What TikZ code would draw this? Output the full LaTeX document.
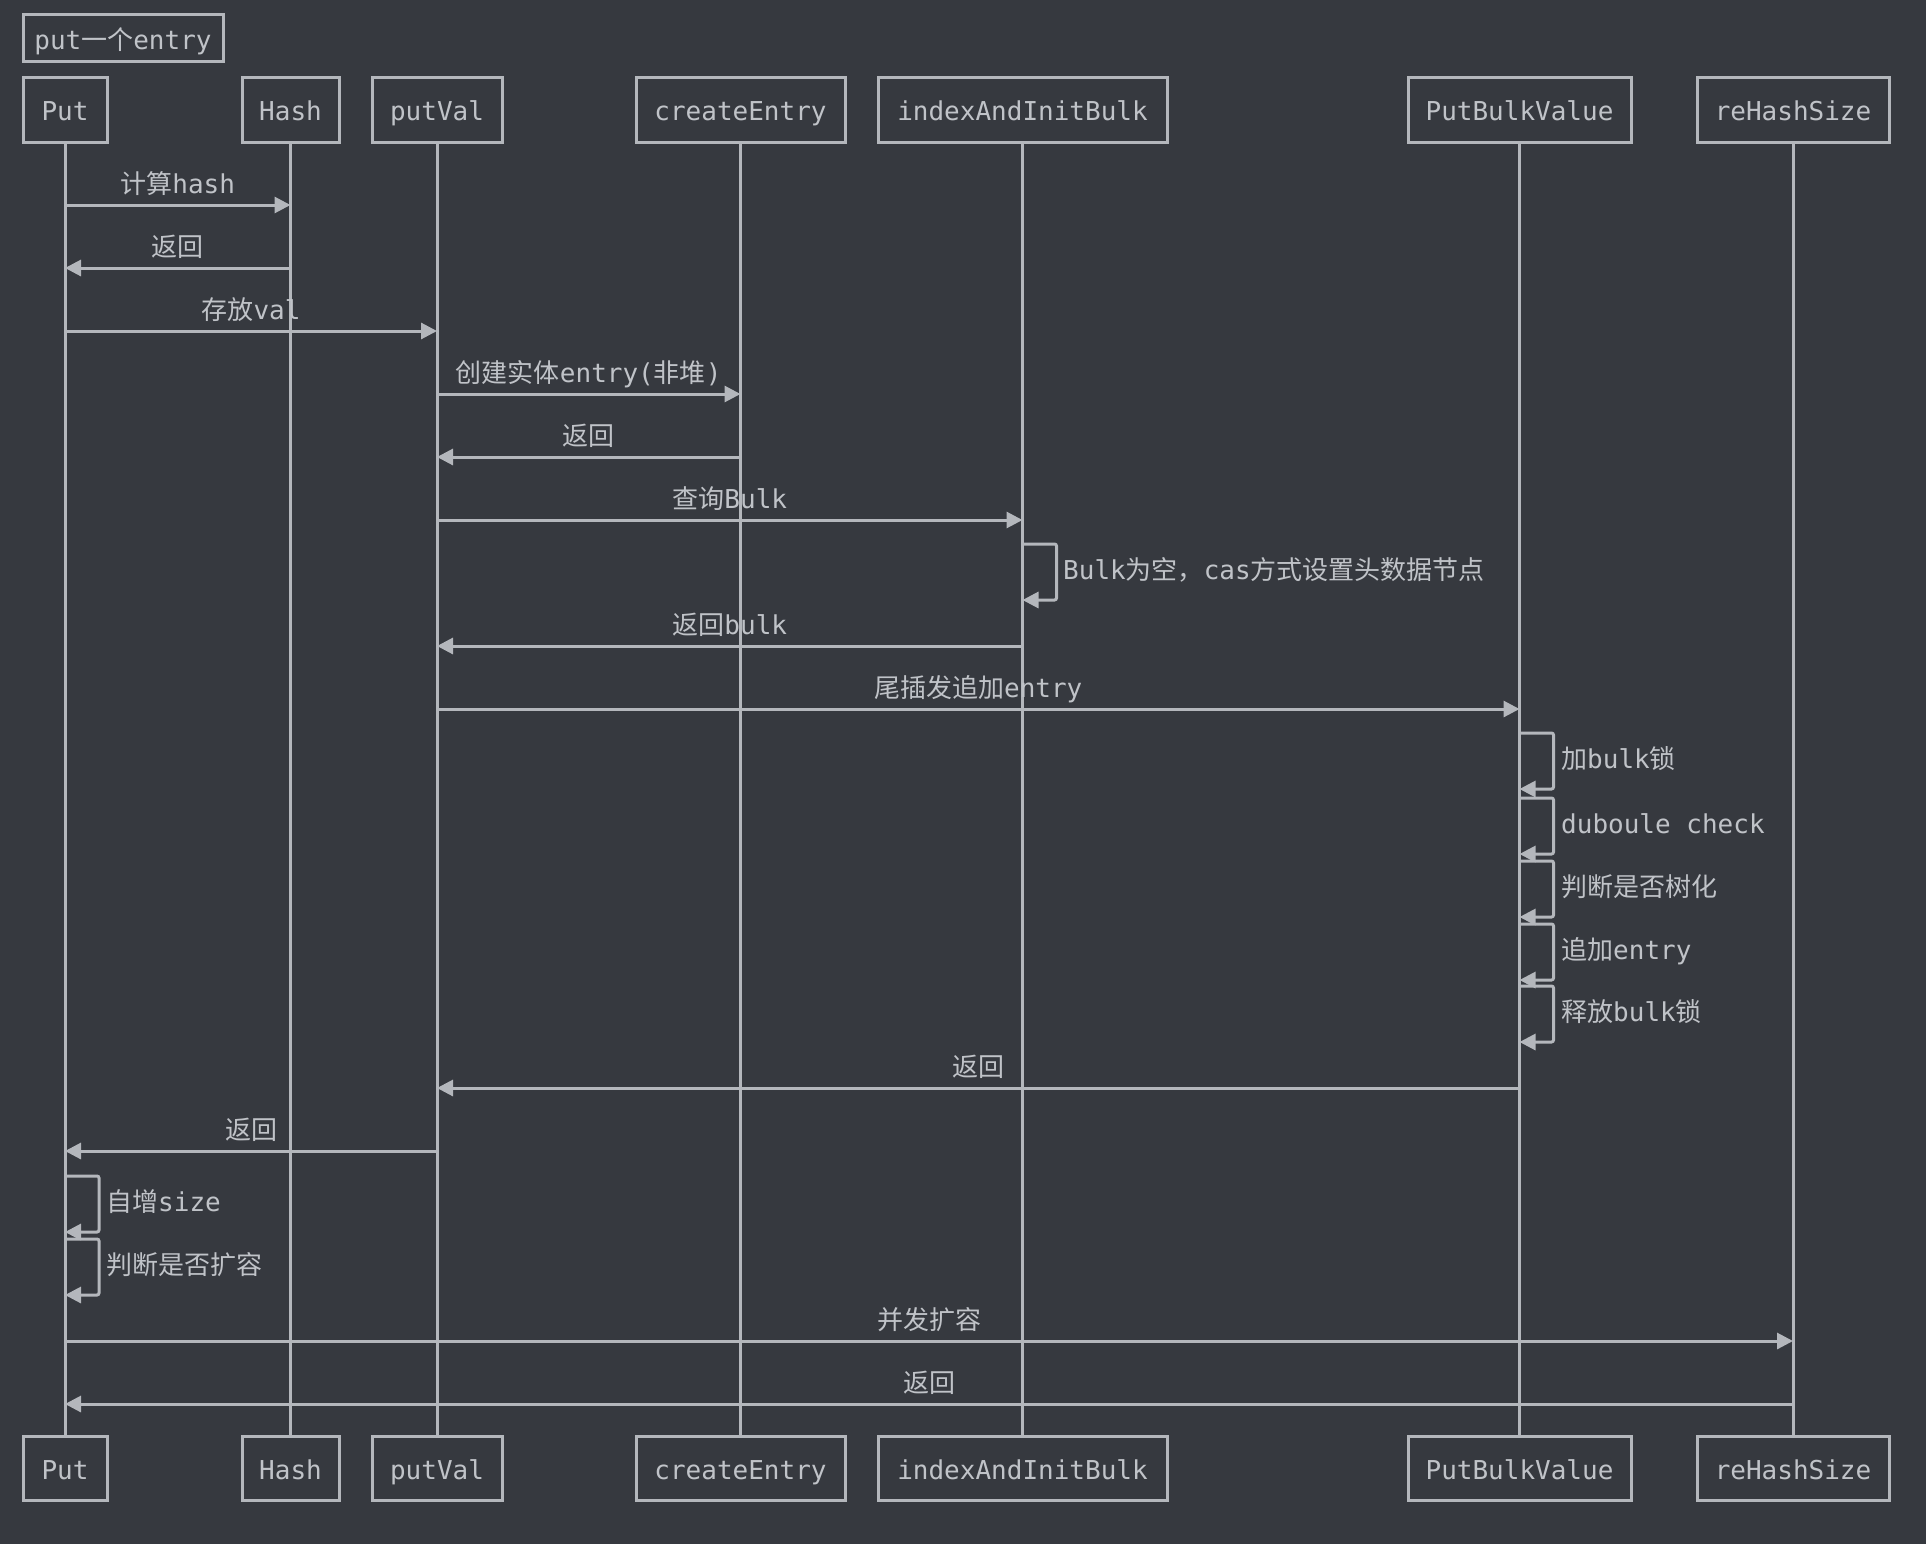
\documentclass[tikz,border=0pt]{standalone}
\usepackage{fontspec}
\setmainfont{DejaVu Sans Mono}
\newfontfamily\cjk{Noto Sans CJK SC}
\usetikzlibrary{arrows.meta}
\definecolor{bg}{RGB}{54,57,63}
\definecolor{ln}{RGB}{180,183,188}
\definecolor{tx}{RGB}{192,195,200}
\newcommand\zh[1]{{\cjk #1}}
\begin{document}
\begin{tikzpicture}[x=1pt,y=-1pt,
  actor/.style={draw=ln, line width=3pt, text=tx, fill=bg, font=\fontsize{26}{30}\selectfont, minimum height=64pt, inner sep=0pt, text height=24pt, text depth=2pt},
  life/.style={draw=ln, line width=3pt},
  msg/.style={draw=ln, line width=3pt, -{Triangle[length=16pt,width=16pt]}},
  loopmsg/.style={msg, rounded corners=2pt},
  lbl/.style={text=tx, font=\fontsize{26}{30}\selectfont, anchor=base, inner sep=0pt},
  sl/.style={text=tx, font=\fontsize{26}{30}\selectfont, anchor=base west, inner sep=0pt}]
\fill[bg] (0,0) rectangle (1926,1544);
\useasboundingbox (0,0) rectangle (1926,1544);

\node[actor, minimum width=200pt, minimum height=47pt] (title) at (123,38.5) {put\zh{一个}entry};

\foreach \n/\t/\x/\w in {Put/Put/65/84, Hash/Hash/290.5/97, PV/putVal/437/130, CE/createEntry/740.5/209, IX/indexAndInitBulk/1022.5/289, PB/PutBulkValue/1519.5/223, RH/reHashSize/1793/192}{
  \node[actor, minimum width=\w pt] (\n T) at (\x,110) {\t};
  \node[actor, minimum width=\w pt] (\n B) at (\x,1468.5) {\t};
  \draw[life] (\n T.south) -- (\n B.north);
}

% messages
\draw[msg] (PutT |- 0,205) -- (HashT |- 0,205) node[lbl, midway, yshift=12pt] {\zh{计算}hash};
\draw[msg] (HashT |- 0,268) -- (PutT |- 0,268) node[lbl, midway, yshift=12pt] {\zh{返回}};
\draw[msg] (PutT |- 0,331) -- (PVT |- 0,331) node[lbl, midway, yshift=12pt] {\zh{存放}val};
\draw[msg] (PVT |- 0,394) -- (CET |- 0,394) node[lbl, midway, yshift=12pt] {\zh{创建实体}entry(\zh{非堆})};
\draw[msg] (CET |- 0,457) -- (PVT |- 0,457) node[lbl, midway, yshift=12pt] {\zh{返回}};
\draw[msg] (PVT |- 0,520) -- (IXT |- 0,520) node[lbl, midway, yshift=12pt] {\zh{查询}Bulk};
\draw[loopmsg] (IXT |- 0,544) -- ++(34,0) -- ++(0,56) -- ++(-34,0);
\node[sl] (l1) at (1063,579) {Bulk\zh{为空，}cas\zh{方式设置头数据节点}};
\draw[msg] (IXT |- 0,646) -- (PVT |- 0,646) node[lbl, midway, yshift=12pt] {\zh{返回}bulk};
\draw[msg] (PVT |- 0,709) -- (PBT |- 0,709) node[lbl, midway, yshift=12pt] {\zh{尾插发追加}entry};

\foreach \y/\t in {733/{\zh{加}bulk\zh{锁}}, 798/{duboule check}, 861/{\zh{判断是否树化}}, 924/{\zh{追加}entry}, 986/{\zh{释放}bulk\zh{锁}}}{
  \draw[loopmsg] (PBT |- 0,\y) -- ++(34,0) -- ++(0,56) -- ++(-34,0);
  \node[sl] at (1561,\y+35) {\t};
}

\draw[msg] (PBT |- 0,1088) -- (PVT |- 0,1088) node[lbl, midway, yshift=12pt] {\zh{返回}};
\draw[msg] (PVT |- 0,1151) -- (PutT |- 0,1151) node[lbl, midway, yshift=12pt] {\zh{返回}};

\foreach \y/\t in {1176/{\zh{自增}size}, 1239/{\zh{判断是否扩容}}}{
  \draw[loopmsg] (PutT |- 0,\y) -- ++(34,0) -- ++(0,56) -- ++(-34,0);
  \node[sl] at (106,\y+35) {\t};
}

\draw[msg] (PutT |- 0,1341) -- (RHT |- 0,1341) node[lbl, midway, yshift=12pt] {\zh{并发扩容}};
\draw[msg] (RHT |- 0,1404) -- (PutT |- 0,1404) node[lbl, midway, yshift=12pt] {\zh{返回}};
\end{tikzpicture}
\end{document}
